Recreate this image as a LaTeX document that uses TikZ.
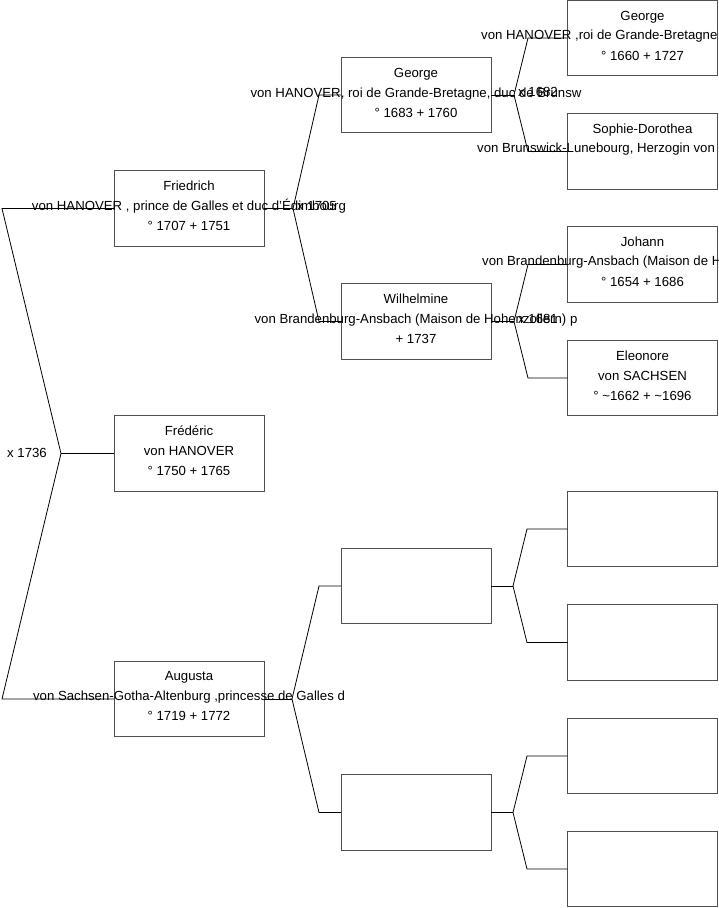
\documentclass[tikz,border=0pt]{standalone}
\usepackage{fontspec}
\setmainfont{Liberation Sans}
\definecolor{boxgray}{HTML}{505050}
\tikzset{
  pbox/.style={draw=boxgray, line width=1pt, minimum width=150pt, minimum height=75.5pt, inner sep=0pt, outer sep=0pt},
  ptxt/.style={font=\fontsize{13.2}{20}\selectfont, align=center, inner sep=0pt, text=black},
  plabel/.style={font=\fontsize{13.2}{20}\selectfont, inner sep=0pt, text=black},
  conn/.style={draw=black, line width=0.8pt}
}
\begin{document}
\begin{tikzpicture}[x=1pt,y=-1pt]
\useasboundingbox (0,0) rectangle (719,908);

% ---- boxes ----
\node[pbox] (g1a) at (189,208.5) {};
\node[pbox] (g1b) at (189,453.5) {};
\node[pbox] (g1c) at (189,699) {};
\node[pbox] (g2a) at (416,95) {};
\node[pbox] (g2b) at (416,321.5) {};
\node[pbox] (g2c) at (416,586) {};
\node[pbox] (g2d) at (416,812.5) {};
\node[pbox] (g3a) at (642.5,38) {};
\node[pbox] (g3b) at (642.5,151.5) {};
\node[pbox] (g3c) at (642.5,264.5) {};
\node[pbox] (g3d) at (642.5,378) {};
\node[pbox] (g3e) at (642.5,529) {};
\node[pbox] (g3f) at (642.5,642.5) {};
\node[pbox] (g3g) at (642.5,756) {};
\node[pbox] (g3h) at (642.5,869) {};

% ---- texts ----
\node[ptxt] (t1a) at ([yshift=2.5pt]g1a.center) {Friedrich\\von HANOVER , prince de Galles et duc d'Édimbourg\\° 1707 + 1751};
\node[ptxt] (t1b) at ([yshift=2.5pt]g1b.center) {Frédéric\\von HANOVER\\° 1750 + 1765};
\node[ptxt] (t1c) at ([yshift=2.5pt]g1c.center) {Augusta\\von Sachsen-Gotha-Altenburg ,princesse de Galles d\\° 1719 + 1772};
\node[ptxt] (t2a) at ([yshift=2.5pt]g2a.center) {George\\von HANOVER, roi de Grande-Bretagne, duc de Brunsw\\° 1683 + 1760};
\node[ptxt] (t2b) at ([yshift=2.5pt]g2b.center) {Wilhelmine\\von Brandenburg-Ansbach (Maison de Hohenzollern) p\\+ 1737};
\node[ptxt] (t3a) at ([yshift=2.5pt]g3a.center) {George\\\phantom{X}\\° 1660 + 1727};
\node[plabel, anchor=west] (m3a) at (481,36) {von HANOVER ,roi de Grande-Bretagne};
\node[ptxt] (t3b) at ([yshift=2.5pt]g3b.center) {Sophie-Dorothea\\\phantom{X}\\\phantom{X}};
\node[plabel, anchor=west] (m3b) at (477,149.5) {von Brunswick-Lunebourg, Herzogin von};
\node[ptxt] (t3c) at ([yshift=2.5pt]g3c.center) {Johann\\\phantom{X}\\° 1654 + 1686};
\node[plabel, anchor=west] (m3c) at (482,262.5) {von Brandenburg-Ansbach (Maison de H};
\node[ptxt] (t3d) at ([yshift=2.5pt]g3d.center) {Eleonore\\von SACHSEN\\° \textasciitilde1662 + \textasciitilde1696};

% ---- fork points ----
\coordinate (r0) at (61,453.5);
\coordinate (r1) at (2,208.5);
\coordinate (r2) at (2,699);
\coordinate (fa) at (293,208.5);
\coordinate (fau) at (319,95);
\coordinate (fad) at (319,321.5);
\coordinate (fc) at (292,699);
\coordinate (fcu) at (319,586);
\coordinate (fcd) at (319,812.5);
\coordinate (ha) at (514,95);
\coordinate (hau) at (528,38);
\coordinate (had) at (528,151.5);
\coordinate (hb) at (514,321.5);
\coordinate (hbu) at (528,264.5);
\coordinate (hbd) at (528,378);
\coordinate (hc) at (513,586);
\coordinate (hcu) at (527,529);
\coordinate (hcd) at (527,642.5);
\coordinate (hd) at (513,812.5);
\coordinate (hdu) at (527,756);
\coordinate (hdd) at (527,869);

% ---- connectors ----
\draw[conn] (g1b.west) -- (r0);
\draw[conn] (r0) -- (r1) -- (g1a.west);
\draw[conn] (r0) -- (r2) -- (g1c.west);

\draw[conn] (g1a.east) -- (fa);
\draw[conn] (fa) -- (fau) -- (g2a.west);
\draw[conn] (fa) -- (fad) -- (g2b.west);
\draw[conn] (g1c.east) -- (fc);
\draw[conn] (fc) -- (fcu) -- (g2c.west);
\draw[conn] (fc) -- (fcd) -- (g2d.west);

\draw[conn] (g2a.east) -- (ha);
\draw[conn] (ha) -- (hau) -- (g3a.west);
\draw[conn] (ha) -- (had) -- (g3b.west);
\draw[conn] (g2b.east) -- (hb);
\draw[conn] (hb) -- (hbu) -- (g3c.west);
\draw[conn] (hb) -- (hbd) -- (g3d.west);
\draw[conn] (g2c.east) -- (hc);
\draw[conn] (hc) -- (hcu) -- (g3e.west);
\draw[conn] (hc) -- (hcd) -- (g3f.west);
\draw[conn] (g2d.east) -- (hd);
\draw[conn] (hd) -- (hdu) -- (g3g.west);
\draw[conn] (hd) -- (hdd) -- (g3h.west);

% ---- marriage labels ----
\node[plabel, anchor=east] (l0) at (47,453) {x 1736};
\node[plabel, anchor=west] (l1) at (297,206) {x 1705};
\node[plabel, anchor=west] (l2) at (518,92) {x 1682};
\node[plabel, anchor=west] (l3) at (518,319) {x 1681};
\end{tikzpicture}
\end{document}
